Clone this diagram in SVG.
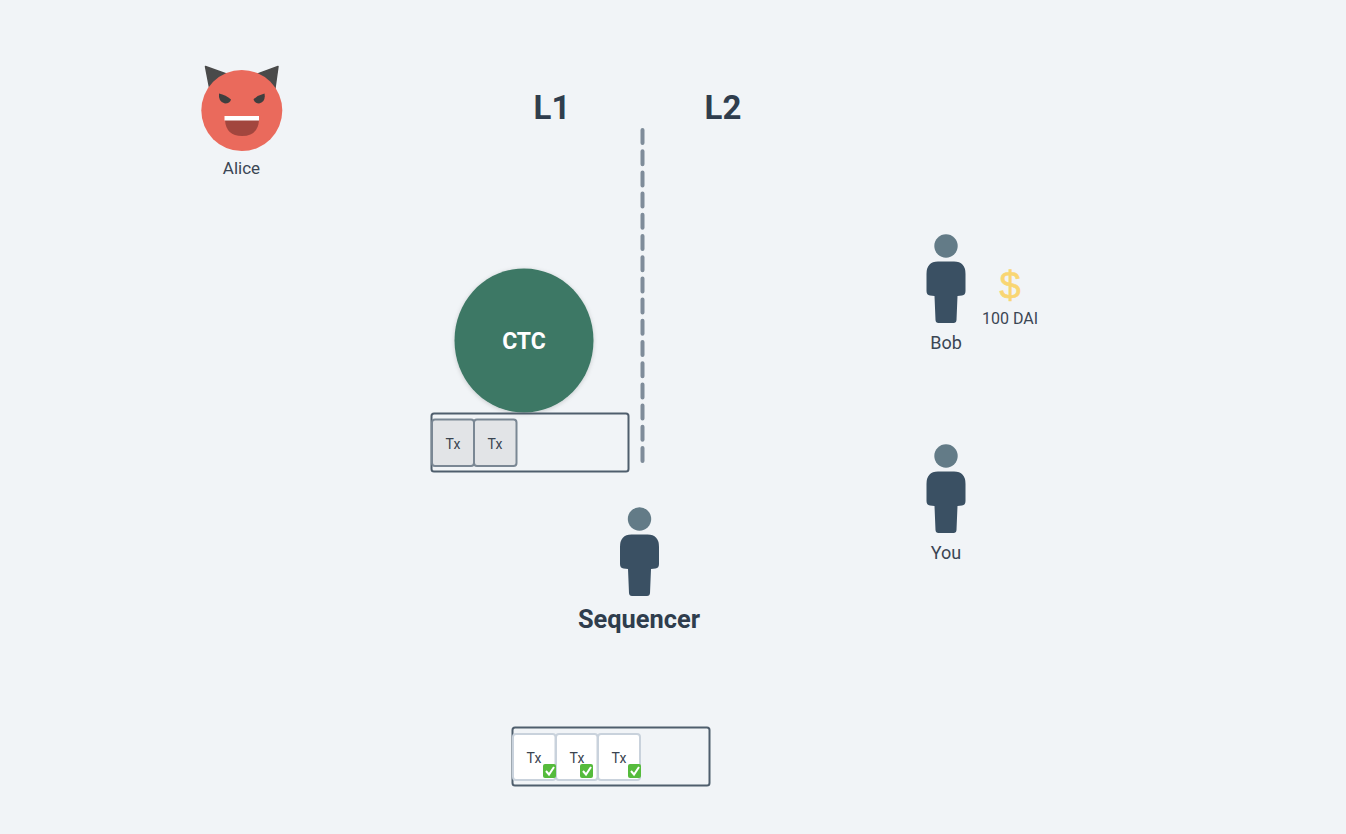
<svg xmlns="http://www.w3.org/2000/svg" width="1346" height="834" viewBox="0 0 1346 834">
<defs>
<style>
text{font-family:Roboto,"Noto Sans","Liberation Sans",sans-serif;text-anchor:middle}
.lbl{fill:#3b4654;font-size:18px;font-weight:400}
.big{fill:#2f3d4d;font-weight:700}
.tx{font-size:14px;fill:#3a4450}
.dark{fill:#e2e4e7;stroke:#7a8794;stroke-width:2}
.light{fill:#fff;stroke:#c9d2dc;stroke-width:2}
.tray{fill:none;stroke:#4f5e6d;stroke-width:2}
.head{fill:#637b87}
.body{fill:#3a5063}
.chk{fill:#55bb3c}
.tick{fill:none;stroke:#fff;stroke-width:2}
</style>
<filter id="sh" x="-10%" y="-10%" width="120%" height="120%"><feDropShadow dx="0" dy="1" stdDeviation="2" flood-color="#000" flood-opacity="0.18"/></filter>
<g id="person">
<circle class="head" cx="0" cy="-44" r="11.7"/>
<path class="body" d="M-8-28.500H8Q19.500-28.500 19.500-16V1Q19.500 5 16 5.500L11.500 6L10.500 30Q10.300 33 7.500 33H-7.500Q-10.300 33-10.500 30L-11.500 6L-16 5.500Q-19.500 5-19.500 1V-16Q-19.500-28.500-8-28.500Z"/>
</g>
<g id="check"><rect class="chk" x="0" y="0" width="13" height="14" rx="2"/><path class="tick" d="M3 7L6 10.500L11 3"/></g>
</defs>
<rect width="1346" height="834" fill="#f1f4f7"/>
<g id="connectors"><path d="M642.500 130V462" fill="none" stroke="#7f8c9a" stroke-width="4" stroke-dasharray="13 8.200" stroke-linecap="round"/></g>
<g id="alice">
<path d="M205.500 66.500L232 76L211 95Z" fill="#4a4a4a" stroke="#4a4a4a" stroke-width="1.500" stroke-linejoin="round"/>
<path d="M278 66.500L252 76L274 95Z" fill="#4a4a4a" stroke="#4a4a4a" stroke-width="1.500" stroke-linejoin="round"/>
<circle cx="241.800" cy="110.500" r="40.500" fill="#ea6a5c"/>
<path d="M219 93.500Q226 95 231 99.500Q230 103.500 225 103.500Q218 102 219 93.500Z" fill="#3f3f3f"/>
<path d="M264.500 93.500Q258 95 253.500 99.500Q255 103.500 259 103.500Q266 102 264.500 93.500Z" fill="#3f3f3f"/>
<path d="M225 120H259Q258 136 242 136Q226 136 225 120Z" fill="#a2463e"/>
<rect x="224.500" y="116" width="34.500" height="4.500" fill="#fff"/>
<text class="lbl" x="241.500" y="174" style="font-size:17px">Alice</text>
</g>
<g id="l1"><text class="big" x="552" y="119" font-size="33">L1</text></g>
<g id="l2"><text class="big" x="723" y="119" font-size="33">L2</text></g>
<g id="ctc">
<path d="M524 268.500C562 268.500 593.500 300 593.500 340.500C593.500 381 562 412.500 524 412.500C486 412.500 454.500 381 454.500 340.500C454.500 300 486 268.500 524 268.500Z" fill="#3e7865" filter="url(#sh)"/>
<text x="524" y="349" font-size="23" font-weight="700" fill="#fff">CTC</text>
</g>
<g id="l1-batch">
<rect class="tray" x="431.500" y="413.500" width="197" height="58" rx="2.500"/>
<rect class="dark" x="432" y="419.500" width="42" height="46.500" rx="3"/>
<rect class="dark" x="474" y="419.500" width="42.500" height="46.500" rx="3"/>
<text class="tx" x="453" y="449">Tx</text>
<text class="tx" x="495" y="449">Tx</text>
</g>
<g id="bob"><use href="#person" x="946" y="290"/><text class="lbl" x="946" y="349">Bob</text></g>
<g id="dai">
<text x="1010" y="299" font-size="38" fill="#f9d673" stroke="#f9d673" stroke-width="0.600" style="font-family:'Liberation Sans',sans-serif">$</text>
<text x="1010" y="324" font-size="16" font-weight="400" fill="#3b4654">100 DAI</text>
</g>
<g id="you"><use href="#person" x="946" y="500"/><text class="lbl" x="946" y="559">You</text></g>
<g id="sequencer"><use href="#person" x="639.500" y="563"/><text class="big" x="639" y="628" font-size="25.400">Sequencer</text></g>
<g id="l2-batch">
<rect class="tray" x="512.500" y="727.500" width="197" height="58" rx="2.500"/>
<rect class="light" x="513" y="734" width="42.500" height="46" rx="3"/>
<rect class="light" x="556" y="734" width="41.500" height="46" rx="3"/>
<rect class="light" x="598" y="734" width="42" height="46" rx="3"/>
<text class="tx" x="534" y="763">Tx</text>
<text class="tx" x="577" y="763">Tx</text>
<text class="tx" x="619" y="763">Tx</text>
<use href="#check" x="543" y="764"/>
<use href="#check" x="580" y="764"/>
<use href="#check" x="628" y="764"/>
</g>
</svg>
